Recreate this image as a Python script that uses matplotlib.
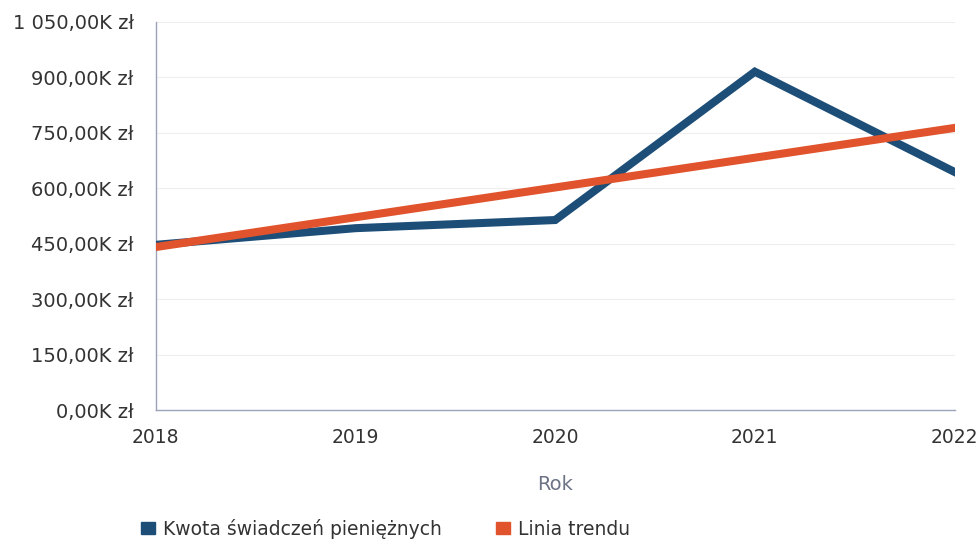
import matplotlib
matplotlib.use("Agg")
import matplotlib.pyplot as plt
from matplotlib.patches import Patch
from matplotlib.ticker import FuncFormatter

years = [2018, 2019, 2020, 2021, 2022]
kwota = [447, 492, 514, 915, 644]          # thousands zł
trend_years = [2018, 2022]
trend_vals = [441, 763]
y_ticks = [0, 150, 300, 450, 600, 750, 900, 1050]

blue = "#1d4e78"
orange = "#e0532c"

plt.rcParams['font.family'] = ['DejaVu Sans']

fig = plt.figure(figsize=(9.8, 5.44), dpi=100)
ax = fig.add_axes([0.159, 0.246, 0.815, 0.714])

ax.plot(years, kwota, color=blue, lw=5.8, solid_joinstyle='miter', zorder=3)
ax.plot(trend_years, trend_vals, color=orange, lw=5.8, zorder=4)

ax.set_xlim(2018, 2022)
ax.set_ylim(0, 1050)
ax.set_xticks(years)
ax.set_xticklabels([str(y) for y in years])
ax.set_yticks(y_ticks)

def fmt(v, pos):
    s = f"{v:,.2f}".replace(",", " ").replace(".", ",")
    return s + "K zł"
ax.yaxis.set_major_formatter(FuncFormatter(fmt))

ax.tick_params(axis='both', length=0, labelsize=13.5, colors='#333333')
ax.tick_params(axis='y', labelsize=14, pad=16)
ax.tick_params(axis='x', pad=13)
ax.grid(axis='y', color='#eeeeee', lw=0.8)
ax.set_axisbelow(True)
for s in ['top', 'right']:
    ax.spines[s].set_visible(False)
for s in ['left', 'bottom']:
    ax.spines[s].set_color('#9aa3b8')
    ax.spines[s].set_linewidth(1.0)

ax.set_xlabel("Rok", fontsize=14, color='#6b7385', labelpad=20)

handles = [Patch(color=blue, label="Kwota świadczeń pieniężnych"),
           Patch(color=orange, label="Linia trendu")]
fig.legend(handles=handles, loc='center left', bbox_to_anchor=(0.127, 0.028),
           ncol=2, frameon=False, fontsize=13.5, handlelength=0.75, handleheight=0.65,
           handletextpad=0.4, columnspacing=2.9, labelcolor='#333333')

fig.savefig("out.png", dpi=100)
